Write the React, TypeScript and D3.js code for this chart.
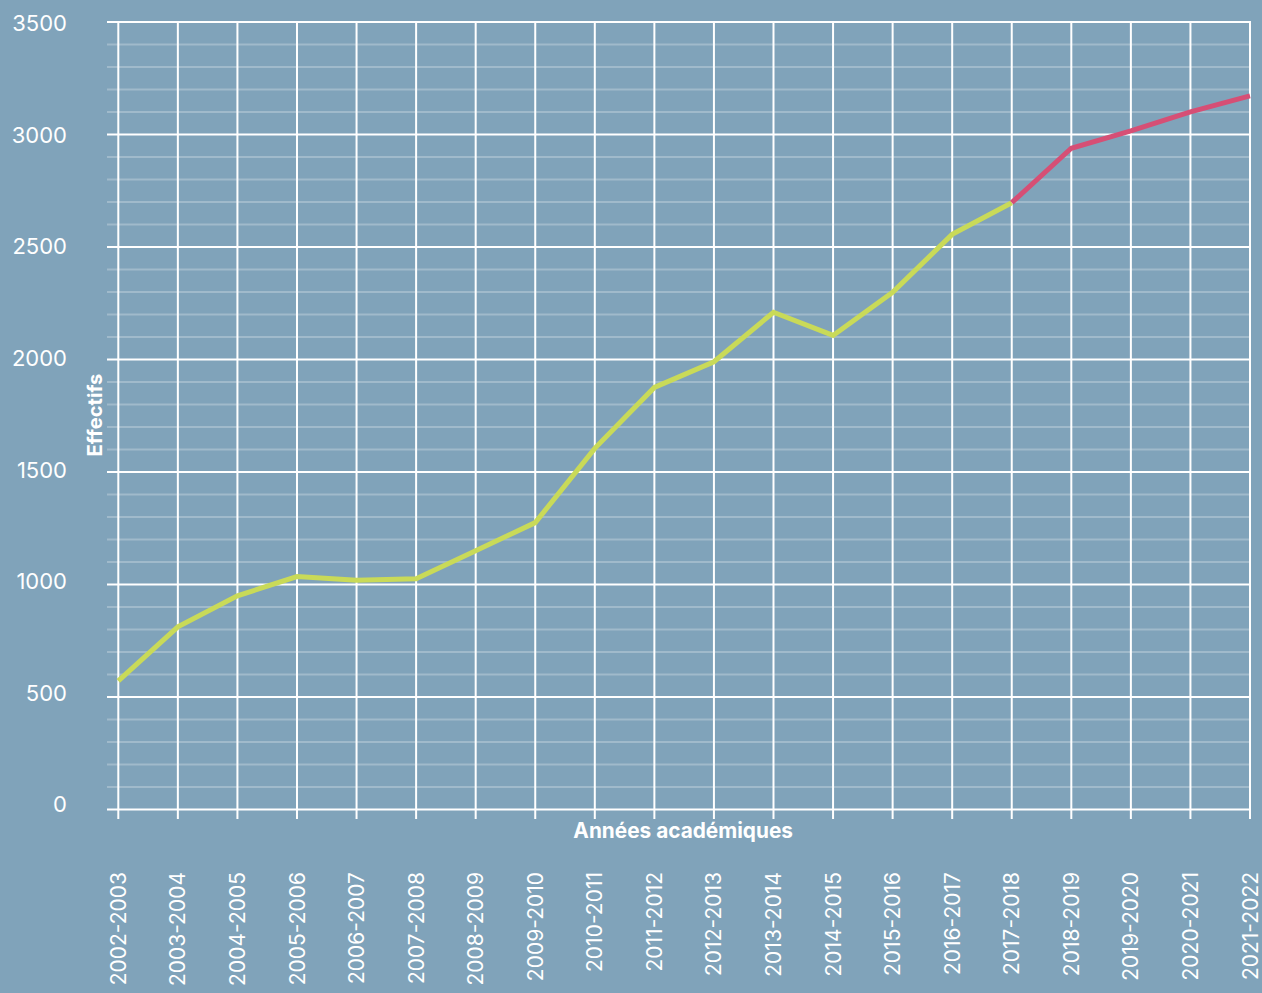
import React from "react";
import * as d3 from "d3";

const years: string[] = [
  "2002-2003", "2003-2004", "2004-2005", "2005-2006", "2006-2007",
  "2007-2008", "2008-2009", "2009-2010", "2010-2011", "2011-2012",
  "2012-2013", "2013-2014", "2014-2015", "2015-2016", "2016-2017",
  "2017-2018", "2018-2019", "2019-2020", "2020-2021", "2021-2022",
];
const effectifs: number[] = [
  572, 812, 950, 1035, 1019, 1026, 1150, 1275, 1605, 1876,
  1990, 2210, 2107, 2299, 2556, 2697, 2939, 3016, 3101, 3172,
];
const splitYear = "2017-2018";
const yTicks: number[] = [0, 500, 1000, 1500, 2000, 2500, 3000, 3500];
const yMinorTicks: number[] = d3.range(0, 3501, 100).filter((v) => v % 500 !== 0);

const W = 1262;
const H = 993;
const BG = "#80a3ba";
const GREEN = "#c9da58";
const PINK = "#d64f75";
const FONT = "Inter, 'Noto Sans', sans-serif";

export default function App() {
  const x = d3.scalePoint<string>().domain(years).range([118.3, 1250]);
  const y = d3.scaleLinear().domain([0, 3500]).range([809.5, 22]);
  const yLabel = d3.scaleLinear().domain([0, 3500]).range([804.5, 23.3]);
  const splitIdx = years.indexOf(splitYear);
  const pts = years.map((yr, i) => ({ yr, v: effectifs[i], i }));
  const line = d3
    .line<{ yr: string; v: number }>()
    .x((d) => x(d.yr) as number)
    .y((d) => y(d.v));
  const greenPts = pts.filter((p) => p.i <= splitIdx);
  const pinkPts = pts.filter((p) => p.i >= splitIdx);
  const left = 107;
  const right = 1250;

  return (
    <svg
      width={W}
      height={H}
      style={{ position: "absolute", left: 0, top: 0, display: "block" }}
    >
      <rect x={0} y={0} width={W} height={H} fill={BG} />
      {yMinorTicks.map((v) => (
        <line
          key={"m" + v}
          x1={left}
          x2={right}
          y1={y(v)}
          y2={y(v)}
          stroke="#ffffff"
          strokeOpacity={0.25}
          strokeWidth={2}
        />
      ))}
      {yTicks.map((v) => (
        <line
          key={"M" + v}
          x1={left}
          x2={right + 1}
          y1={y(v)}
          y2={y(v)}
          stroke="#ffffff"
          strokeWidth={2}
        />
      ))}
      {years.map((yr) => (
        <line
          key={"v" + yr}
          x1={x(yr)}
          x2={x(yr)}
          y1={y(3500) - 1}
          y2={819}
          stroke="#ffffff"
          strokeWidth={2}
        />
      ))}
      {yTicks.map((v) => (
        <text
          key={"t" + v}
          x={67}
          y={yLabel(v)}
          dy="0.36em"
          textAnchor="end"
          fill="#ffffff"
          fontFamily={FONT}
          fontSize={22}
        >
          {v}
        </text>
      ))}
      {years.map((yr) => (
        <text
          key={"xl" + yr}
          transform={`translate(${x(yr)},872) rotate(-90)`}
          dy="0.36em"
          textAnchor="end"
          fill="#ffffff"
          fontFamily={FONT}
          fontSize={21}
        >
          {yr}
        </text>
      ))}
      <text
        x={(118.3 + 1250) / 2 - 1}
        y={838}
        textAnchor="middle"
        fill="#ffffff"
        fontFamily={FONT}
        fontWeight={700}
        fontSize={20.8}
      >
        Années académiques
      </text>
      <text
        transform={`translate(102,415) rotate(-90)`}
        textAnchor="middle"
        fill="#ffffff"
        fontFamily={FONT}
        fontWeight={700}
        fontSize={20.2}
      >
        Effectifs
      </text>
      <path d={line(greenPts) || ""} fill="none" stroke={GREEN} strokeWidth={5} strokeLinejoin="miter" />
      <path d={line(pinkPts) || ""} fill="none" stroke={PINK} strokeWidth={5} strokeLinejoin="miter" />
    </svg>
  );
}
